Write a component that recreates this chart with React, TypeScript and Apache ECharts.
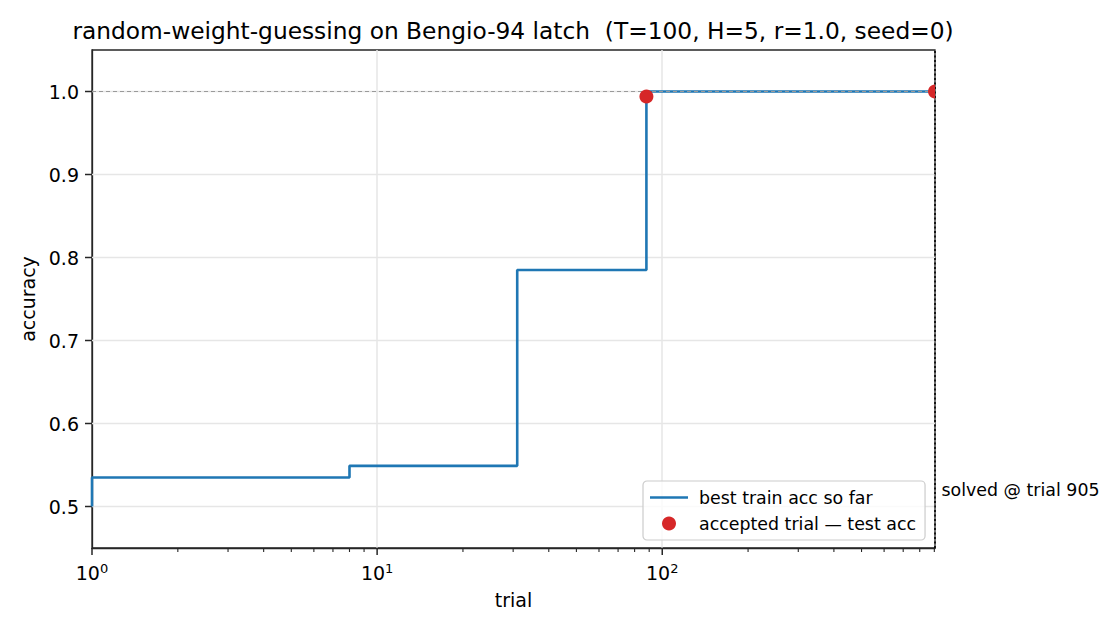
import { useEffect, useRef } from 'react';
import * as echarts from 'echarts';

const chartTitle = 'random-weight-guessing on Bengio-94 latch  (T=100, H=5, r=1.0, seed=0)';

// best train accuracy so far (steps-post)
const bestTrials = [1, 1, 8, 31, 88, 905];
const bestAcc = [0.5, 0.535, 0.549, 0.785, 1.0, 1.0];

// accepted trials -> test accuracy
const acceptedTrials = [88, 905];
const acceptedAcc = [0.994, 1.0];

const solvedTrial = 905;
const solvedLabelAcc = 0.52;

// tick positions
const yTicks = [0.5, 0.6, 0.7, 0.8, 0.9, 1.0];
const xMajorTicks = [1, 10, 100];
const xMinorTicks = [2, 3, 4, 5, 6, 7, 8, 9, 20, 30, 40, 50, 60, 70, 80, 90, 200, 300, 400, 500, 600, 700, 800, 900];

const FONT = 'DejaVu Sans';
const BLUE = '#1f77b4';
const RED = '#d62728';
const DARK = '#262626';
const GRID = '#e6e6e6';
const Y_MIN = 0.45;
const Y_MAX = 1.05;

const App = () => {
  const chartRef = useRef<HTMLDivElement>(null);

  useEffect(() => {
    if (!chartRef.current) return;
    const chart = echarts.init(chartRef.current, undefined, { renderer: 'svg' });

    const isPow10 = (v: number) => {
      const e = Math.log10(v);
      return Math.abs(e - Math.round(e)) < 1e-6;
    };

    const xTickSeries = (name: string, vals: number[], len: number, width: number) => ({
      type: 'custom',
      name,
      silent: true,
      clip: false,
      z: 3,
      data: vals.map((v) => [v, Y_MIN]),
      renderItem: (params: any, api: any) => {
        const cs = params.coordSys;
        const p = api.coord([api.value(0), Y_MIN]);
        const yb = cs.y + cs.height;
        return {
          type: 'line',
          shape: { x1: p[0], y1: yb, x2: p[0], y2: yb + len },
          style: { stroke: DARK, lineWidth: width },
        };
      },
    });

    const option = {
      animation: false,
      backgroundColor: '#fff',
      textStyle: { fontFamily: FONT },
      title: {
        text: chartTitle,
        left: 513,
        textAlign: 'center',
        top: 19,
        padding: 0,
        textStyle: { fontSize: 23.3, fontWeight: 'normal', color: '#000', fontFamily: FONT },
      },
      grid: {
        left: 92,
        right: 185,
        top: 50,
        bottom: 82,
        show: true,
        borderColor: DARK,
        borderWidth: 1.3,
        backgroundColor: 'transparent',
      },
      legend: {
        left: 643,
        top: 481,
        orient: 'vertical',
        padding: [8, 9, 8, 7],
        itemGap: 9,
        itemWidth: 38,
        itemHeight: 14,
        backgroundColor: 'rgba(255,255,255,0.8)',
        borderColor: '#cccccc',
        borderWidth: 1.2,
        borderRadius: 4,
        selectedMode: false,
        itemStyle: { borderWidth: 0 },
        textStyle: { fontSize: 17.4, color: '#000', fontFamily: FONT, padding: [0, 0, 0, 6] },
        data: [
          { name: 'best train acc so far', icon: 'path://M0,0H38V2.6H0Z' },
          { name: 'accepted trial — test acc', icon: 'circle' },
        ],
      },
      xAxis: {
        type: 'log',
        logBase: 10,
        min: 1,
        max: solvedTrial,
        name: 'trial',
        nameLocation: 'middle',
        nameGap: 42,
        nameTextStyle: { fontSize: 19, color: '#000', fontFamily: FONT },
        axisLine: { show: true, lineStyle: { color: DARK, width: 1.3 } },
        axisTick: { show: false },
        splitLine: { show: true, showMinLine: false, showMaxLine: false, lineStyle: { color: GRID, width: 1.5 } },
        axisLabel: {
          margin: 14,
          color: '#000',
          fontSize: 19,
          fontFamily: FONT,
          showMaxLabel: false,
          formatter: (v: number) => (isPow10(v) ? `10{s|${Math.round(Math.log10(v))}}` : ''),
          rich: {
            s: { fontSize: 13, verticalAlign: 'top', color: '#000', fontFamily: FONT, padding: [0, 0, 8, 0] },
          },
        },
      },
      yAxis: {
        type: 'value',
        min: Y_MIN,
        max: Y_MAX,
        interval: 0.05,
        name: 'accuracy',
        nameLocation: 'middle',
        nameGap: 52,
        nameTextStyle: { fontSize: 19, color: '#000', fontFamily: FONT },
        axisLine: { show: true, lineStyle: { color: DARK, width: 1.3 } },
        axisTick: { show: false },
        splitLine: { show: false },
        axisLabel: {
          margin: 13,
          color: '#000',
          fontSize: 19,
          fontFamily: FONT,
          formatter: (v: number) => (Math.abs(v * 10 - Math.round(v * 10)) < 1e-6 ? v.toFixed(1) : ''),
        },
      },
      series: [
        {
          type: 'custom',
          name: 'ygrid',
          silent: true,
          clip: false,
          z: 1,
          data: yTicks.map((v) => [1, v]),
          renderItem: (params: any, api: any) => {
            const cs = params.coordSys;
            const y = api.coord([1, api.value(1)])[1];
            return {
              type: 'group',
              children: [
                {
                  type: 'line',
                  shape: { x1: cs.x, y1: y, x2: cs.x + cs.width, y2: y },
                  style: { stroke: GRID, lineWidth: 1.5 },
                },
                {
                  type: 'line',
                  shape: { x1: cs.x - 7, y1: y, x2: cs.x, y2: y },
                  style: { stroke: DARK, lineWidth: 1.5 },
                },
              ],
            };
          },
        },
        xTickSeries('xmajor', xMajorTicks, 7, 1.5),
        xTickSeries('xminor', xMinorTicks, 4, 1.1),
        {
          type: 'line',
          name: 'best train acc so far',
          data: bestTrials.map((t, i) => [t, bestAcc[i]]),
          step: 'end',
          showSymbol: false,
          symbol: 'none',
          clip: true,
          color: BLUE,
          lineStyle: { color: BLUE, width: 2.6 },
          z: 2,
          markLine: {
            silent: true,
            symbol: ['none', 'none'],
            label: { show: false },
            z: 5,
            data: [
              { yAxis: 1.0, lineStyle: { color: '#9a9a9a', width: 1, type: [4, 3] } },
              { xAxis: solvedTrial, lineStyle: { color: '#000', width: 1.6, type: [2, 2.5] } },
            ],
          },
          markPoint: {
            silent: true,
            symbol: 'circle',
            symbolSize: 1,
            itemStyle: { color: 'rgba(0,0,0,0)' },
            data: [
              {
                coord: [solvedTrial, solvedLabelAcc],
                label: {
                  show: true,
                  position: 'right',
                  distance: 6,
                  formatter: 'solved @ trial 905',
                  fontSize: 17.4,
                  color: '#000',
                  fontFamily: FONT,
                },
              },
            ],
          },
        },
        {
          type: 'custom',
          name: 'accepted trial — test acc',
          clip: true,
          z: 6,
          itemStyle: { color: RED },
          data: acceptedTrials.map((t, i) => [t, acceptedAcc[i]]),
          renderItem: (_params: any, api: any) => {
            const p = api.coord([api.value(0), api.value(1)]);
            return {
              type: 'circle',
              shape: { cx: p[0], cy: p[1], r: 7 },
              style: { fill: RED },
            };
          },
        },
      ],
    };

    chart.setOption(option as any);

    return () => {
      chart.dispose();
    };
  }, []);

  return (
    <div
      ref={chartRef}
      style={{ position: 'fixed', left: 0, top: 0, width: '1120px', height: '630px', background: '#fff' }}
    />
  );
};

export default App;
